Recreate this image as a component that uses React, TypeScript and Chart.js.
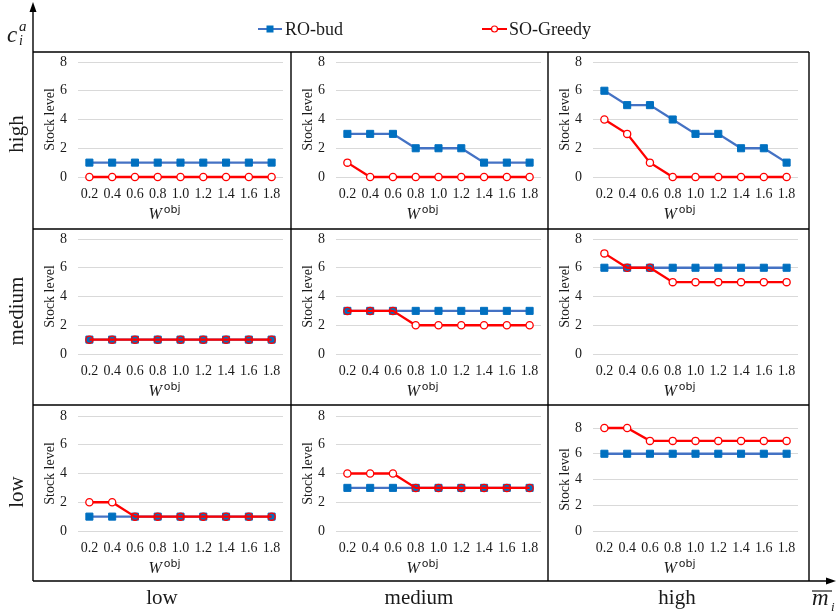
import React, { useEffect, useRef } from 'react';
import { Chart, registerables } from 'chart.js';

Chart.register(...registerables);

// ---------- data ----------
const wLabels = ['0.2', '0.4', '0.6', '0.8', '1.0', '1.2', '1.4', '1.6', '1.8'];
const rowLabels = ['high', 'medium', 'low']; // c_i^a (top to bottom)
const colLabels = ['low', 'medium', 'high']; // m̄_i (left to right)
const yMin = 0;
const yMax = 8;
const yStep = 2;

// RO-bud series  (row = c_i^a, col = m̄_i)
const roHighLow = [1, 1, 1, 1, 1, 1, 1, 1, 1];
const roHighMedium = [3, 3, 3, 2, 2, 2, 1, 1, 1];
const roHighHigh = [6, 5, 5, 4, 3, 3, 2, 2, 1];
const roMediumLow = [1, 1, 1, 1, 1, 1, 1, 1, 1];
const roMediumMedium = [3, 3, 3, 3, 3, 3, 3, 3, 3];
const roMediumHigh = [6, 6, 6, 6, 6, 6, 6, 6, 6];
const roLowLow = [1, 1, 1, 1, 1, 1, 1, 1, 1];
const roLowMedium = [3, 3, 3, 3, 3, 3, 3, 3, 3];
const roLowHigh = [6, 6, 6, 6, 6, 6, 6, 6, 6];

// SO-Greedy series
const soHighLow = [0, 0, 0, 0, 0, 0, 0, 0, 0];
const soHighMedium = [1, 0, 0, 0, 0, 0, 0, 0, 0];
const soHighHigh = [4, 3, 1, 0, 0, 0, 0, 0, 0];
const soMediumLow = [1, 1, 1, 1, 1, 1, 1, 1, 1];
const soMediumMedium = [3, 3, 3, 2, 2, 2, 2, 2, 2];
const soMediumHigh = [7, 6, 6, 5, 5, 5, 5, 5, 5];
const soLowLow = [2, 2, 1, 1, 1, 1, 1, 1, 1];
const soLowMedium = [4, 4, 4, 3, 3, 3, 3, 3, 3];
const soLowHigh = [8, 8, 7, 7, 7, 7, 7, 7, 7];

const roGrid = [
  [roHighLow, roHighMedium, roHighHigh],
  [roMediumLow, roMediumMedium, roMediumHigh],
  [roLowLow, roLowMedium, roLowHigh],
];
const soGrid = [
  [soHighLow, soHighMedium, soHighHigh],
  [soMediumLow, soMediumMedium, soMediumHigh],
  [soLowLow, soLowMedium, soLowHigh],
];

// ---------- layout ----------
const colX = [33, 291, 548, 809];
const rowY = [52, 229, 405, 581];
const SERIF = "'Liberation Serif', 'Times New Roman', serif";
const TEXT = '#1a1a1a';

const wTitlePlugin = {
  id: 'wTitle',
  afterDraw(chart: any) {
    const { ctx, chartArea } = chart;
    const cx = (chartArea.left + chartArea.right) / 2 - 16;
    const base = chartArea.bottom + 42;
    ctx.save();
    ctx.fillStyle = TEXT;
    ctx.textBaseline = 'alphabetic';
    ctx.textAlign = 'left';
    ctx.font = `italic 16px ${SERIF}`;
    const wW = ctx.measureText('W').width;
    ctx.font = `11px 'DejaVu Sans', sans-serif`;
    const wObj = ctx.measureText('obj').width;
    const total = wW + 2 + wObj;
    const x0 = cx - total / 2;
    ctx.font = `italic 16px ${SERIF}`;
    ctx.fillText('W', x0, base);
    ctx.font = `11px 'DejaVu Sans', sans-serif`;
    ctx.fillText('obj', x0 + wW + 2, base - 6);
    ctx.restore();
  },
};

function Cell({ r, c }: { r: number; c: number }) {
  const ref = useRef<HTMLCanvasElement>(null);
  const x = colX[c];
  const y = rowY[r];
  const w = colX[c + 1] - colX[c];
  const h = rowY[r + 1] - rowY[r];
  const plotLeft = 45;
  const plotWidth = 205;
  const rightPad = w - plotLeft - plotWidth;
  const bottomH = [52, 51, 50][r];
  const topPad = r === 2 && c === 2 ? 23 : r === 2 ? 11 : 10;
  const ro = roGrid[r][c];
  const so = soGrid[r][c];

  useEffect(() => {
    const chart = new Chart(ref.current as HTMLCanvasElement, {
      type: 'line',
      data: {
        labels: wLabels,
        datasets: [
          {
            label: 'RO-bud',
            data: ro,
            borderColor: '#4472C4',
            borderWidth: 2.3,
            pointStyle: 'rect',
            pointRadius: 5,
            pointBackgroundColor: '#0070C0',
            pointBorderColor: '#0070C0',
            pointBorderWidth: 1,
            clip: false,
            order: 1,
          },
          {
            label: 'SO-Greedy',
            data: so,
            borderColor: '#FF0000',
            borderWidth: 2.3,
            pointStyle: 'circle',
            pointRadius: 3.6,
            pointBorderWidth: 1.3,
            pointBorderColor: '#FF0000',
            pointBackgroundColor: (ctx: any) =>
              ro[ctx.dataIndex] === so[ctx.dataIndex] ? 'rgba(0,0,0,0)' : '#FFFFFF',
            clip: false,
            order: 0,
          },
        ],
      },
      options: {
        responsive: false,
        animation: false,
        layout: { padding: { top: topPad, right: rightPad, left: 0, bottom: 0 } },
        plugins: { legend: { display: false }, tooltip: { enabled: false } },
        scales: {
          x: {
            offset: true,
            grid: { display: false, drawTicks: false },
            border: { display: false },
            ticks: {
              padding: 9,
              color: TEXT,
              font: { family: SERIF, size: 14 },
              maxRotation: 0,
              autoSkip: false,
            },
            afterFit: (s: any) => {
              s.height = bottomH;
              s.paddingLeft = 0;
              s.paddingRight = 0;
            },
          },
          y: {
            min: yMin,
            max: yMax,
            ticks: {
              stepSize: yStep,
              padding: 11,
              color: TEXT,
              font: { family: SERIF, size: 14 },
            },
            grid: { color: '#D9D9D9', lineWidth: 1, drawTicks: false },
            border: { display: false },
            title: {
              display: true,
              text: 'Stock level',
              color: TEXT,
              font: { family: SERIF, size: 14 },
              padding: { top: 9, bottom: 0 },
            },
            afterFit: (s: any) => {
              s.width = plotLeft;
              s.paddingTop = 0;
              s.paddingBottom = 0;
            },
          },
        },
      },
      plugins: [wTitlePlugin],
    } as any);
    return () => chart.destroy();
  }, []);

  return (
    <canvas
      ref={ref}
      width={w}
      height={h}
      style={{ position: 'absolute', left: x, top: y, width: w, height: h }}
    />
  );
}

export default function App() {
  const cells: any[] = [];
  for (let r = 0; r < 3; r++) for (let c = 0; c < 3; c++) cells.push(<Cell key={`${r}-${c}`} r={r} c={c} />);
  const rowCenters = [134, 311, 492];
  const colCenters = [162, 419, 677];
  return (
    <div style={{ position: 'absolute', left: 0, top: 0, width: 836, height: 615, background: '#fff', overflow: 'hidden' }}>
      {cells}
      <svg width={836} height={615} style={{ position: 'absolute', left: 0, top: 0, pointerEvents: 'none' }}>
        {/* frame */}
        <g stroke="#000" strokeWidth={1.4}>
          <line x1={33} y1={581} x2={33} y2={10} />
          <line x1={33} y1={581} x2={828} y2={581} />
          <line x1={33} y1={52} x2={809} y2={52} />
          <line x1={33} y1={229} x2={809} y2={229} />
          <line x1={33} y1={405} x2={809} y2={405} />
          <line x1={291} y1={52} x2={291} y2={581} />
          <line x1={548} y1={52} x2={548} y2={581} />
          <line x1={809} y1={52} x2={809} y2={581} />
        </g>
        <polygon points="33,2 29.5,12 36.5,12" fill="#000" />
        <polygon points="836,581 826,577.5 826,584.5" fill="#000" />

        {/* legend */}
        <line x1={258} y1={29} x2={282} y2={29} stroke="#4472C4" strokeWidth={2} />
        <rect x={266.5} y={25.5} width={7} height={7} fill="#0070C0" />
        <text x={285} y={35} fontFamily={SERIF} fontSize={18} fill={TEXT}>RO-bud</text>
        <line x1={482} y1={29} x2={507} y2={29} stroke="#FF0000" strokeWidth={2} />
        <circle cx={494.5} cy={29} r={3} fill="#fff" stroke="#FF0000" strokeWidth={1.2} />
        <text x={509} y={35} fontFamily={SERIF} fontSize={18} fill={TEXT}>SO-Greedy</text>

        {/* row labels */}
        {rowLabels.map((t, i) => (
          <text
            key={t}
            x={0}
            y={0}
            transform={`translate(16 ${rowCenters[i]}) rotate(-90)`}
            textAnchor="middle"
            dominantBaseline="central"
            fontFamily={SERIF}
            fontSize={21}
            fill={TEXT}
          >
            {t}
          </text>
        ))}
        {/* column labels */}
        {colLabels.map((t, i) => (
          <text key={t} x={colCenters[i]} y={604} textAnchor="middle" fontFamily={SERIF} fontSize={21} fill={TEXT}>
            {t}
          </text>
        ))}

        {/* c_i^a */}
        <text x={7} y={42} fontFamily={SERIF} fontStyle="italic" fontSize={23} fill={TEXT}>c</text>
        <text x={19} y={31} fontFamily={SERIF} fontStyle="italic" fontSize={15} fill={TEXT}>a</text>
        <text x={19} y={45} fontFamily={SERIF} fontStyle="italic" fontSize={14} fill={TEXT}>i</text>

        {/* m̄_i */}
        <text x={812} y={605} fontFamily={SERIF} fontStyle="italic" fontSize={23} fill={TEXT}>m</text>
        <line x1={812} y1={591} x2={832} y2={591} stroke={TEXT} strokeWidth={1.2} />
        <text x={831} y={611} fontFamily={SERIF} fontStyle="italic" fontSize={13} fill={TEXT}>i</text>
      </svg>
    </div>
  );
}
